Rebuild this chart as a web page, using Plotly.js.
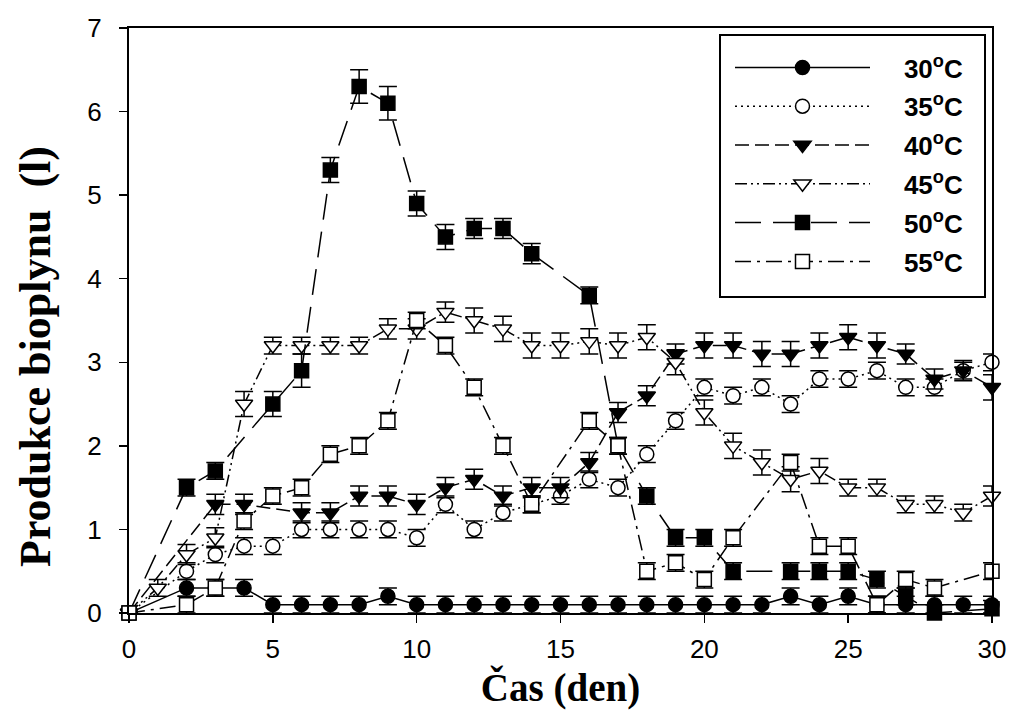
<!DOCTYPE html>
<html>
<head>
<meta charset="utf-8">
<script src="https://cdn.plot.ly/plotly-3.0.1.min.js"></script>
<style>html,body{margin:0;padding:0;background:#fff;}#chart{width:1012px;height:723px;}</style>
</head>
<body>
<div id="chart"></div>
<script>
// ---- data ----
const seriesNames = ["30<sup>o</sup>C", "35<sup>o</sup>C", "40<sup>o</sup>C", "45<sup>o</sup>C", "50<sup>o</sup>C", "55<sup>o</sup>C"];

const days30 = [0,2,3,4,5,6,7,8,9,10,11,12,13,14,15,16,17,18,19,20,21,22,23,24,25,26,27,28,29,30];
const val30  = [0,0.3,0.3,0.3,0.1,0.1,0.1,0.1,0.2,0.1,0.1,0.1,0.1,0.1,0.1,0.1,0.1,0.1,0.1,0.1,0.1,0.1,0.2,0.1,0.2,0.1,0.1,0.1,0.1,0.1];
const err30  = [0,0.1,0.1,0.1,0.1,0.1,0.1,0.1,0.1,0.1,0.1,0.1,0.1,0.1,0.1,0.1,0.1,0.1,0.1,0.1,0.1,0.1,0.1,0.1,0.1,0.1,0.1,0.1,0.1,0.1];

const days35 = [0,2,3,4,5,6,7,8,9,10,11,12,13,14,15,16,17,18,19,20,21,22,23,24,25,26,27,28,29,30];
const val35  = [0,0.5,0.7,0.8,0.8,1.0,1.0,1.0,1.0,0.9,1.3,1.0,1.2,1.3,1.4,1.6,1.5,1.9,2.3,2.7,2.6,2.7,2.5,2.8,2.8,2.9,2.7,2.7,2.9,3.0];
const err35  = [0,0.1,0.1,0.1,0.1,0.1,0.1,0.1,0.1,0.1,0.1,0.1,0.1,0.1,0.1,0.1,0.1,0.1,0.1,0.1,0.1,0.1,0.1,0.1,0.1,0.1,0.1,0.1,0.1,0.1];

const days40 = [0,3,4,6,7,8,9,10,11,12,13,14,15,16,17,18,19,20,21,22,23,24,25,26,27,28,29,30];
const val40  = [0,1.3,1.3,1.2,1.2,1.4,1.4,1.3,1.5,1.6,1.4,1.5,1.5,1.8,2.4,2.6,3.1,3.2,3.2,3.1,3.1,3.2,3.3,3.2,3.1,2.8,2.9,2.7];
const err40  = [0,0.12,0.12,0.12,0.12,0.12,0.12,0.12,0.12,0.12,0.12,0.12,0.12,0.12,0.12,0.12,0.12,0.15,0.15,0.15,0.15,0.15,0.15,0.15,0.12,0.12,0.12,0.15];

const days45 = [0,1,2,3,4,5,6,7,8,9,10,11,12,13,14,15,16,17,18,19,20,21,22,23,24,25,26,27,28,29,30];
const val45  = [0,0.3,0.7,0.9,2.5,3.2,3.2,3.2,3.2,3.4,3.4,3.6,3.5,3.4,3.2,3.2,3.25,3.2,3.3,3.0,2.4,2.0,1.8,1.6,1.7,1.5,1.5,1.3,1.3,1.2,1.4];
const err45  = [0,0.1,0.12,0.12,0.15,0.1,0.1,0.1,0.1,0.12,0.12,0.12,0.15,0.15,0.15,0.15,0.15,0.15,0.15,0.15,0.15,0.15,0.15,0.15,0.15,0.1,0.1,0.1,0.1,0.1,0.12];

const days50 = [0,2,3,5,6,7,8,9,10,11,12,13,14,16,17,18,19,20,21,23,24,25,26,27,28,30];
const val50  = [0,1.5,1.7,2.5,2.9,5.3,6.3,6.1,4.9,4.5,4.6,4.6,4.3,3.8,2.0,1.4,0.9,0.9,0.5,0.5,0.5,0.5,0.4,0.2,0.0,0.05];
const err50  = [0,0.1,0.1,0.15,0.2,0.15,0.2,0.2,0.15,0.15,0.12,0.12,0.12,0.1,0.1,0.1,0.1,0.1,0.1,0.1,0.1,0.1,0.1,0.1,0.1,0.1];

const days55 = [0,2,3,4,5,6,7,8,9,10,11,12,13,14,16,17,18,19,20,21,23,24,25,26,27,28,30];
const val55  = [0,0.1,0.3,1.1,1.4,1.5,1.9,2.0,2.3,3.5,3.2,2.7,2.0,1.3,2.3,2.0,0.5,0.6,0.4,0.9,1.8,0.8,0.8,0.1,0.4,0.3,0.5];
const err55  = [0,0.1,0.1,0.1,0.1,0.1,0.1,0.1,0.1,0.1,0.1,0.1,0.1,0.1,0.1,0.1,0.1,0.1,0.1,0.1,0.1,0.1,0.1,0.1,0.1,0.1,0.1];

const xTicks = [0,5,10,15,20,25,30];
const yTicks = [0,1,2,3,4,5,6,7];
const xTitle = "Čas (den)";
const yTitle = "Produkce bioplynu\u00a0\u00a0(l)";

// ---- styles ----
const styles = [
  {symbol:"circle",        fill:"#000", size:14, dash:"solid"},
  {symbol:"circle",        fill:"#fff", size:14, dash:"2px,4px"},
  {symbol:"triangle-down", fill:"#000", size:15, dash:"14px,6px"},
  {symbol:"triangle-down", fill:"#fff", size:15, dash:"12px,4px,2px,4px,2px,4px"},
  {symbol:"square",        fill:"#000", size:14, dash:"26px,12px"},
  {symbol:"square",        fill:"#fff", size:14, dash:"16px,6px,3px,6px"}
];
const xs = [days30, days35, days40, days45, days50, days55];
const ys = [val30, val35, val40, val45, val50, val55];
const es = [err30, err35, err40, err45, err50, err55];

const traces = seriesNames.map((n, i) => ({
  type: "scatter",
  mode: "lines+markers",
  name: "\u00a0\u00a0\u00a0\u00a0" + n,
  legendgroup: "g" + i,
  x: xs[i],
  y: ys[i],
  cliponaxis: false,
  line: {color: "#000", width: 1.5, dash: styles[i].dash},
  marker: {symbol: styles[i].symbol, size: styles[i].size, color: styles[i].fill,
           line: {color: "#000", width: 1.5}},
  error_y: {type: "data", array: es[i], visible: true, color: "#000", thickness: 1.5, width: 9}
}));

const tickFont = {family: "Liberation Sans, Arial, sans-serif", size: 26, color: "#000"};
const layout = {
  width: 1012, height: 723,
  margin: {l: 129, r: 20, t: 28, b: 110, pad: 0},
  paper_bgcolor: "#fff", plot_bgcolor: "#fff",
  showlegend: true,
  xaxis: {
    range: [0, 30], tickvals: xTicks, ticktext: xTicks.map(String),
    showgrid: false, zeroline: false, showline: true, linecolor: "#000", linewidth: 2, mirror: true,
    ticks: "outside", ticklen: 8, tickwidth: 1.5, tickcolor: "#000",
    tickfont: tickFont, ticklabelstandoff: 4, automargin: false,
    title: {text: xTitle, standoff: 10,
            font: {family: "Liberation Serif, Times New Roman, serif", size: 39, weight: "bold", color: "#000"}}
  },
  yaxis: {
    range: [0, 7], tickvals: yTicks, ticktext: yTicks.map(String),
    showgrid: false, zeroline: false, showline: true, linecolor: "#000", linewidth: 2, mirror: true,
    ticks: "outside", ticklen: 8, tickwidth: 1.5, tickcolor: "#000",
    tickfont: tickFont, ticklabelstandoff: 12, automargin: false
  },
  annotations: [{
    text: yTitle, xref: "paper", yref: "paper",
    x: (35 - 129) / 863, y: (613 - 357) / 585, xanchor: "center", yanchor: "middle",
    textangle: -90, showarrow: false,
    font: {family: "Liberation Serif, Times New Roman, serif", size: 44, weight: "bold", color: "#000"}
  }],
  shapes: [{
    type: "rect", xref: "paper", yref: "paper", layer: "below",
    x0: (720 - 129) / 863, x1: (985 - 129) / 863,
    y0: (613 - 297) / 585, y1: (613 - 35) / 585,
    line: {color: "#000", width: 2}, fillcolor: "#fff"
  }],
  legend: {
    x: (730 - 129) / 863, y: (613 - 44) / 585, xanchor: "left", yanchor: "top",
    bgcolor: "rgba(0,0,0,0)", borderwidth: 0,
    font: {family: "Liberation Sans, Arial, sans-serif", size: 26, weight: "bold", color: "#000"},
    itemwidth: 135, tracegroupgap: 2, traceorder: "grouped",
    itemclick: false, itemdoubleclick: false
  }
};

Plotly.newPlot("chart", traces, layout, {displayModeBar: false, staticPlot: true});
</script>
</body>
</html>
